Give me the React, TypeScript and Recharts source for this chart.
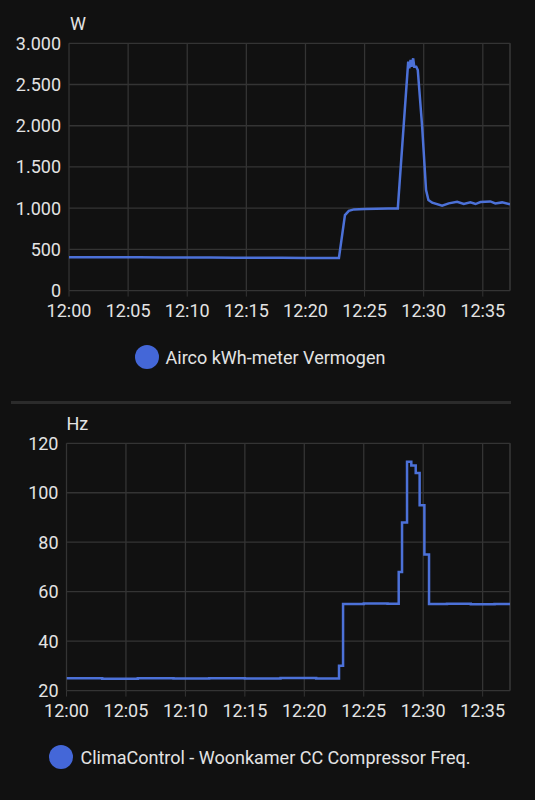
import { LineChart, Line, XAxis, YAxis, CartesianGrid, ReferenceLine } from 'recharts'

// minutes after 12:00
const timeTicks = [0, 5, 10, 15, 20, 25, 30, 35]
const timeLabels = ['12:00', '12:05', '12:10', '12:15', '12:20', '12:25', '12:30', '12:35']
const X_MAX = 37.3

const powerTicks = [0, 500, 1000, 1500, 2000, 2500, 3000]
const powerLabels = ['0', '500', '1.000', '1.500', '2.000', '2.500', '3.000']
const powerTimes = [0, 2, 4, 6, 8, 10, 12, 14, 16, 18, 20, 22, 22.83, 23.34, 23.67, 24.1, 25, 26, 27, 27.81,
  28.69, 28.78, 28.89, 28.97, 29.11, 29.2, 29.37, 29.5, 29.87, 30.2, 30.4, 30.72, 31.56, 32.12, 32.83,
  33.39, 33.95, 34.38, 34.8, 35.64, 36.06, 36.63, 37.3]
const powerValues = [405, 405, 406, 404, 403, 402, 401, 400, 398, 397, 396, 395, 395, 916, 968, 985, 990, 993, 996, 997,
  2777, 2697, 2797, 2716, 2818, 2716, 2716, 2676, 1988, 1220, 1098, 1066, 1029, 1058, 1078,
  1050, 1070, 1050, 1074, 1082, 1058, 1070, 1046]

const freqTicks = [20, 40, 60, 80, 100, 120]
const freqTimes = [0, 3, 6, 9, 12, 15, 18, 21, 22.92, 23.26, 25, 27, 27.94, 28.22, 28.64, 29.0, 29.37, 29.7, 30.1,
  30.49, 32, 34, 36, 37.3]
const freqValues = [25, 24.8, 25, 24.9, 25, 24.9, 25.1, 24.9, 30, 55, 55.2, 55.1, 68, 88, 112.5, 111, 108, 95, 75,
  55, 55.1, 54.9, 55, 55]

const powerData = powerTimes.map((t, i) => ({ t, v: powerValues[i] }))
const freqData = freqTimes.map((t, i) => ({ t, v: freqValues[i] }))

const FONT = 'Roboto, sans-serif'
const TEXT = '#e3e3e3'
const GRID = '#343434'
const LINE = '#4c71d8'
const DOT = '#4467d8'

const tickStyle = { fontSize: 18, fill: TEXT, fontFamily: FONT }

function Legend({ top, label }: { top: number, label: string }) {
  return (
    <div style={{ position: 'absolute', left: 0, width: 520, top: top - 12, height: 24, display: 'flex',
      justifyContent: 'center', alignItems: 'center', gap: 7, fontFamily: FONT, fontSize: 18, color: TEXT }}>
      <span style={{ width: 24, height: 24, borderRadius: 12, background: DOT, display: 'inline-block' }} />
      <span>{label}</span>
    </div>
  )
}

function Chart({ data, ticks, domain, labelFmt, yWidth, top, step }: any) {
  return (
    <div style={{ position: 'absolute', left: 0, top }}>
      <LineChart width={535} height={330} data={data} margin={{ top: 43.3, right: 25, bottom: 9.4, left: 0 }}>
        <CartesianGrid stroke={GRID} strokeWidth={1.3} />
        <XAxis dataKey="t" type="number" domain={[0, X_MAX]} ticks={timeTicks} allowDataOverflow
          tickFormatter={(v: number) => timeLabels[timeTicks.indexOf(v)]}
          tick={tickStyle} axisLine={false} tickLine={{ stroke: GRID }} tickSize={6} tickMargin={7.5} height={30} />
        <YAxis type="number" domain={domain} ticks={ticks} width={yWidth} tick={tickStyle}
          tickFormatter={labelFmt} axisLine={false} tickLine={false} />
        <ReferenceLine x={X_MAX} stroke={GRID} strokeWidth={1.3} />
        <Line dataKey="v" type={step ? 'stepAfter' : 'linear'} stroke={LINE} strokeWidth={2.5}
          dot={false} activeDot={false} isAnimationActive={false} />
      </LineChart>
    </div>
  )
}

export default function App() {
  return (
    <div style={{ position: 'absolute', left: 0, top: 0, width: 535, height: 800, background: '#111111', overflow: 'hidden' }}>
      <Chart data={powerData} ticks={powerTicks} domain={[0, 3000]} yWidth={69} top={0}
        labelFmt={(v: number) => powerLabels[powerTicks.indexOf(v)]} />
      <div style={{ position: 'absolute', left: 70, top: 13, fontFamily: FONT, fontSize: 18, color: TEXT }}>W</div>
      <Legend top={357} label="Airco kWh-meter Vermogen" />
      <div style={{ position: 'absolute', left: 11, top: 400.5, width: 500, height: 3, background: '#2b2b2b' }} />
      <Chart data={freqData} ticks={freqTicks} domain={[20, 120]} yWidth={66.5} top={400} step
        labelFmt={(v: number) => String(v)} />
      <div style={{ position: 'absolute', left: 66.5, top: 413, fontFamily: FONT, fontSize: 18, color: TEXT }}>Hz</div>
      <Legend top={757} label="ClimaControl - Woonkamer CC Compressor Freq." />
    </div>
  )
}
